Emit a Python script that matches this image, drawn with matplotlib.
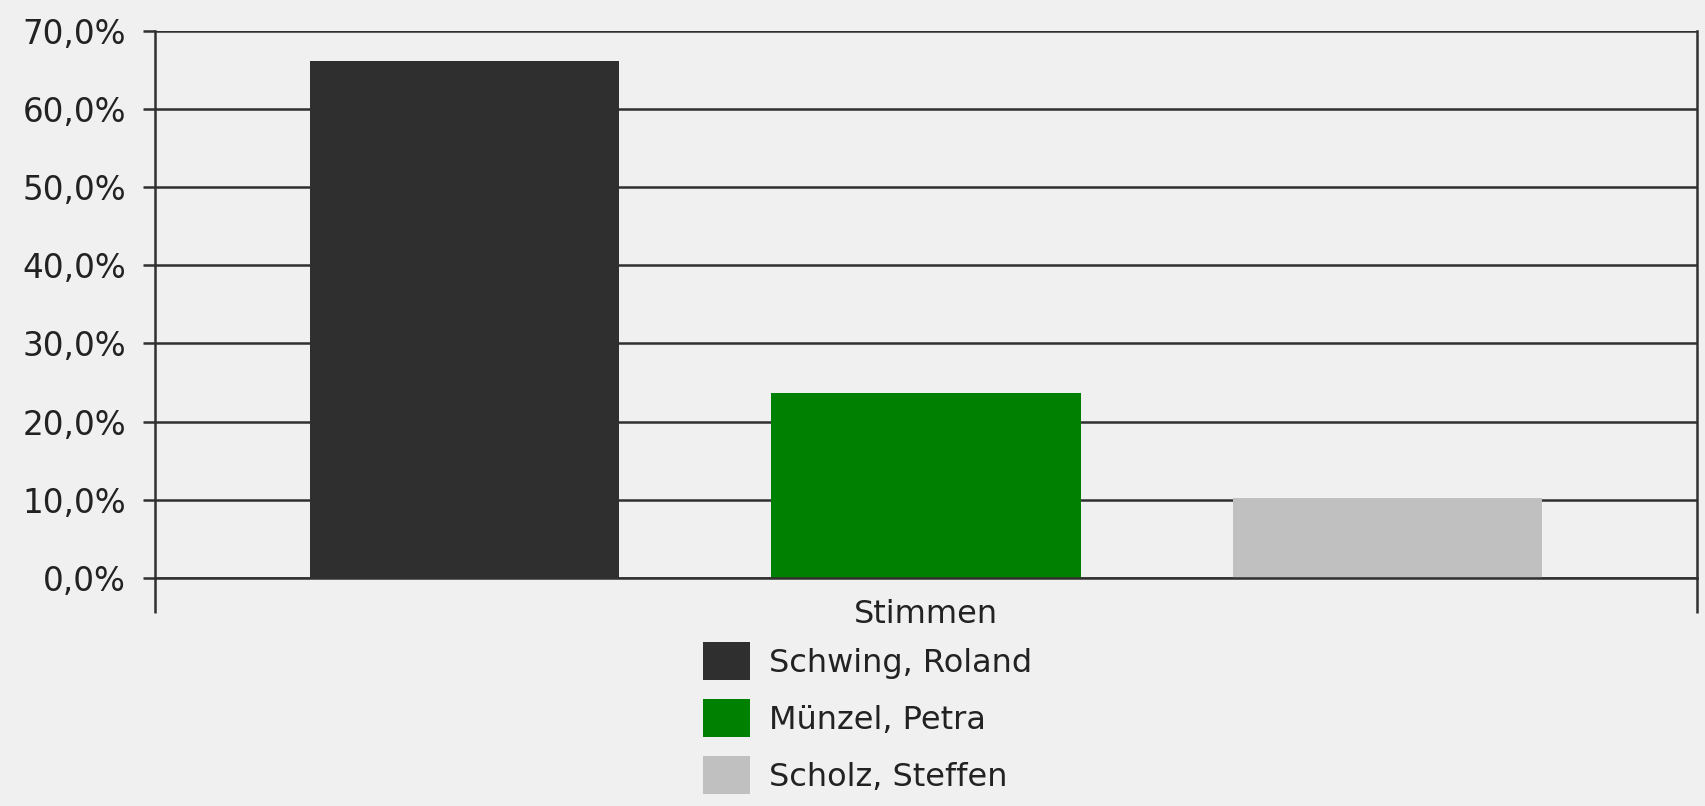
import matplotlib
matplotlib.use("Agg")
import matplotlib.pyplot as plt
from matplotlib.ticker import FuncFormatter

candidates = ["Schwing, Roland", "Münzel, Petra", "Scholz, Steffen"]
shares = [66.1, 23.7, 10.2]
colors = ["#2f2f2f", "#008000", "#c0c0c0"]
category = "Stimmen"
yticks = [0, 10, 20, 30, 40, 50, 60, 70]

bg = "#f0f0f0"
line = "#303030"

fig = plt.figure(figsize=(17.06, 8.06), dpi=100, facecolor=bg)
ax = fig.add_axes([155 / 1706, 1 - 578 / 806, (1697 - 155) / 1706, (578 - 30.5) / 806])
ax.set_facecolor(bg)

xs = range(len(shares))
bars = ax.bar(xs, shares, width=0.67, color=colors, zorder=3, label=candidates)

ax.set_xlim(-0.67, 2.67)
ax.set_ylim(0, 70)
ax.set_yticks(yticks)
ax.yaxis.set_major_formatter(FuncFormatter(lambda v, _: f"{v:.1f}".replace(".", ",") + "%"))
ax.grid(axis="y", color=line, linewidth=1.8, zorder=1)
ax.tick_params(axis="y", length=9, width=1.8, color=line, pad=12,
               labelsize=23.5, labelcolor="#222222")

# category axis: boundary ticks hanging down, label in the middle
ax.set_xticks([-0.67, 2.67])
ax.set_xticklabels(["", ""])
ax.tick_params(axis="x", which="major", length=25, width=1.8, color=line)
ax.set_xticks([1], minor=True)
ax.set_xticklabels([category], minor=True)
ax.tick_params(axis="x", which="minor", length=0, pad=15, labelsize=23, labelcolor="#222222")

ax.spines["top"].set_visible(False)
for side in ["left", "right", "bottom"]:
    ax.spines[side].set_color(line)
    ax.spines[side].set_linewidth(1.8)
    ax.spines[side].set_zorder(4)

ax.legend(bars, candidates, loc="upper left",
          bbox_to_anchor=(703 / 1706, 1 - 642 / 806), bbox_transform=fig.transFigure,
          frameon=False, fontsize=23, handlelength=1.47, handleheight=1.45,
          handletextpad=0.6, labelspacing=0.6, borderpad=0, borderaxespad=0,
          labelcolor="#222222")

fig.savefig("out.png", dpi=100, facecolor=bg)
